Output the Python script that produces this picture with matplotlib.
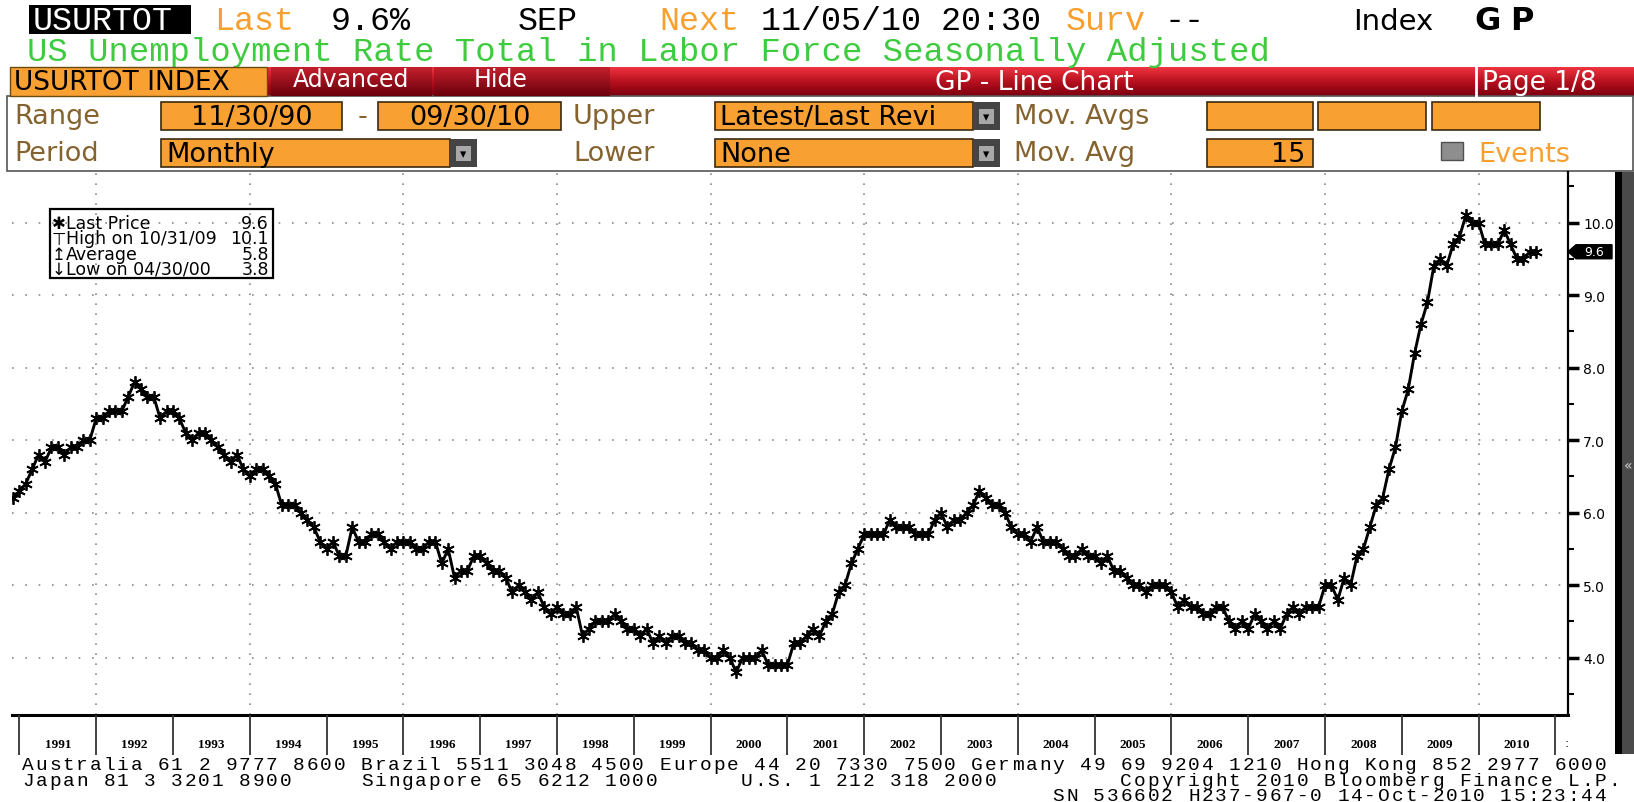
# US unemployment rate, Bloomberg GP style screen

import numpy as np
import pandas as pd
import matplotlib
matplotlib.use("Agg")
import matplotlib.pyplot as plt
from matplotlib.patches import Rectangle, Polygon
from matplotlib.colors import LinearSegmentedColormap

# monthly values, Nov 1990 .. Sep 2010 (one row per year)
unemp_rate = [
    6.2, 6.3,
    6.4, 6.6, 6.8, 6.7, 6.9, 6.9, 6.8, 6.9, 6.9, 7.0, 7.0, 7.3,
    7.3, 7.4, 7.4, 7.4, 7.6, 7.8, 7.7, 7.6, 7.6, 7.3, 7.4, 7.4,
    7.3, 7.1, 7.0, 7.1, 7.1, 7.0, 6.9, 6.8, 6.7, 6.8, 6.6, 6.5,
    6.6, 6.6, 6.5, 6.4, 6.1, 6.1, 6.1, 6.0, 5.9, 5.8, 5.6, 5.5,
    5.6, 5.4, 5.4, 5.8, 5.6, 5.6, 5.7, 5.7, 5.6, 5.5, 5.6, 5.6,
    5.6, 5.5, 5.5, 5.6, 5.6, 5.3, 5.5, 5.1, 5.2, 5.2, 5.4, 5.4,
    5.3, 5.2, 5.2, 5.1, 4.9, 5.0, 4.9, 4.8, 4.9, 4.7, 4.6, 4.7,
    4.6, 4.6, 4.7, 4.3, 4.4, 4.5, 4.5, 4.5, 4.6, 4.5, 4.4, 4.4,
    4.3, 4.4, 4.2, 4.3, 4.2, 4.3, 4.3, 4.2, 4.2, 4.1, 4.1, 4.0,
    4.0, 4.1, 4.0, 3.8, 4.0, 4.0, 4.0, 4.1, 3.9, 3.9, 3.9, 3.9,
    4.2, 4.2, 4.3, 4.4, 4.3, 4.5, 4.6, 4.9, 5.0, 5.3, 5.5, 5.7,
    5.7, 5.7, 5.7, 5.9, 5.8, 5.8, 5.8, 5.7, 5.7, 5.7, 5.9, 6.0,
    5.8, 5.9, 5.9, 6.0, 6.1, 6.3, 6.2, 6.1, 6.1, 6.0, 5.8, 5.7,
    5.7, 5.6, 5.8, 5.6, 5.6, 5.6, 5.5, 5.4, 5.4, 5.5, 5.4, 5.4,
    5.3, 5.4, 5.2, 5.2, 5.1, 5.0, 5.0, 4.9, 5.0, 5.0, 5.0, 4.9,
    4.7, 4.8, 4.7, 4.7, 4.6, 4.6, 4.7, 4.7, 4.5, 4.4, 4.5, 4.4,
    4.6, 4.5, 4.4, 4.5, 4.4, 4.6, 4.7, 4.6, 4.7, 4.7, 4.7, 5.0,
    5.0, 4.8, 5.1, 5.0, 5.4, 5.5, 5.8, 6.1, 6.2, 6.6, 6.9, 7.4,
    7.7, 8.2, 8.6, 8.9, 9.4, 9.5, 9.4, 9.7, 9.8, 10.1, 10.0, 10.0,
    9.7, 9.7, 9.7, 9.9, 9.7, 9.5, 9.5, 9.6, 9.6,
]
year_labels = [str(y) for y in range(1991, 2011)]
ytick_vals = [4, 5, 6, 7, 8, 9, 10]
legend_rows = ["Last Price", "High on 10/31/09", "Average", "Low on 04/30/00"]
legend_vals = ["9.6", "10.1", "5.8", "3.8"]
last_value = 9.6

footer_lines = [
    "Australia 61 2 9777 8600 Brazil 5511 3048 4500 Europe 44 20 7330 7500 Germany 49 69 9204 1210 Hong Kong 852 2977 6000",
    "Japan 81 3 3201 8900     Singapore 65 6212 1000      U.S. 1 212 318 2000         Copyright 2010 Bloomberg Finance L.P.",
    "                                                                            SN 536602 H237-967-0 14-Oct-2010 15:23:44",
]

ORANGE = "#f9a032"
OTXT = "#f7a030"
BROWN = "#85632f"
GREEN = "#3fcb3f"
MONO = "Liberation Mono"
SANS = "DejaVu Sans"

W, H = 1634, 803
fig = plt.figure(figsize=(W / 100, H / 100), dpi=100)
fig.patch.set_facecolor("white")
bg = fig.add_axes([0, 0, 1, 1])
bg.axis("off")


def rect(x0, y0, x1, y1, fc, ec="none", lw=0, z=1):
    bg.add_patch(Rectangle((x0, y0), x1 - x0, y1 - y0, fc=fc, ec=ec, lw=lw, zorder=z))


def txt(x, y, s, **kw):
    kw.setdefault("va", "center")
    bg.text(x, y, s, **kw)


# ---- header lines
rect(29, 6, 191, 35, "black")
txt(33, 22, "USURTOT", color="white", family=MONO, fontsize=24)
txt(214, 22, "Last", color=OTXT, family=MONO, fontsize=24)
txt(331, 22, "9.6%", color="black", family=MONO, fontsize=24)
txt(518, 22, "SEP", color="black", family=MONO, fontsize=24)
txt(659, 22, "Next", color=OTXT, family=MONO, fontsize=24)
txt(761, 22, "11/05/10 20:30", color="black", family=MONO, fontsize=24)
txt(1066, 22, "Surv", color=OTXT, family=MONO, fontsize=24)
txt(1165, 22, "--", color="black", family=MONO, fontsize=24)
txt(1353, 22, "Index", color="black", family=SANS, fontsize=21)
txt(1474, 22, "G", color="black", family=SANS, fontsize=23, weight="bold")
txt(1510, 22, "P", color="black", family=SANS, fontsize=23, weight="bold")
txt(27, 52, "US Unemployment Rate Total in Labor Force Seasonally Adjusted",
    color=GREEN, family=MONO, fontsize=24.4)

# ---- red menu bar
red = LinearSegmentedColormap.from_list("red", ["#ee3440", "#b8101e", "#7c0010"])
grad = np.linspace(0, 1, 60).reshape(-1, 1)
bg.imshow(grad, cmap=red, extent=(10, W, 97, 68), aspect="auto", zorder=1)
dark = LinearSegmentedColormap.from_list("dk", ["#c4202c", "#6a000c"])
for x0, x1 in [(271, 432), (434, 610)]:
    bg.imshow(grad, cmap=dark, extent=(x0, x1, 97, 68), aspect="auto", zorder=2)
rect(10, 68, 267, 97, ORANGE, ec="#6b4a10", lw=1, z=3)
txt(14, 83, "USURTOT INDEX", color="black", family=SANS, fontsize=19, zorder=4)
txt(351, 80, "Advanced", color="white", family=SANS, fontsize=17, ha="center", zorder=4)
txt(501, 80, "Hide", color="white", family=SANS, fontsize=17, ha="center", zorder=4)
txt(1034, 83, "GP - Line Chart", color="white", family=SANS, fontsize=19, ha="center", zorder=4)
bg.plot([1476, 1476], [68, 97], color="white", lw=2, zorder=4)
txt(1482, 83, "Page 1/8", color="white", family=SANS, fontsize=19, zorder=4)

# ---- settings panel
rect(7, 97, 1633, 172, "white", ec="#555555", lw=1.2, z=1)
row1, row2 = 117, 154
FS = 19.5


def field(x0, x1, yc, s="", align="left", dropdown=False):
    rect(x0, yc - 14, x1, yc + 14, ORANGE, ec="#3c2a10", lw=1.2, z=3)
    if align == "left":
        txt(x0 + 5, yc + 1, s, color="black", family=SANS, fontsize=FS, zorder=4)
    elif align == "center":
        txt((x0 + x1) / 2, yc + 1, s, color="black", family=SANS, fontsize=FS,
            ha="center", zorder=4)
    else:
        txt(x1 - 8, yc + 1, s, color="black", family=SANS, fontsize=FS, ha="right", zorder=4)
    if dropdown:
        rect(x1, yc - 14, x1 + 27, yc + 14, "#444444", z=3)
        rect(x1 + 6, yc - 7, x1 + 21, yc + 8, "#a8a8a8", z=4)
        txt(x1 + 13.5, yc + 1, "\u25be", color="black", family=SANS, fontsize=9,
            ha="center", zorder=5)


txt(14, row1, "Range", color=BROWN, family=SANS, fontsize=FS)
field(161, 342, row1, "11/30/90", align="center")
txt(358, row1, "-", color=BROWN, family=SANS, fontsize=FS)
field(378, 561, row1, "09/30/10", align="center")
txt(573, row1, "Upper", color=BROWN, family=SANS, fontsize=FS)
field(715, 973, row1, "Latest/Last Revi", dropdown=True)
txt(1014, row1, "Mov. Avgs", color=BROWN, family=SANS, fontsize=FS)
for x0, x1 in [(1207, 1313), (1318, 1426), (1432, 1540)]:
    field(x0, x1, row1)

txt(14, row2, "Period", color=BROWN, family=SANS, fontsize=FS)
field(161, 450, row2, "Monthly", dropdown=True)
txt(573, row2, "Lower", color=BROWN, family=SANS, fontsize=FS)
field(715, 973, row2, "None", dropdown=True)
txt(1014, row2, "Mov. Avg", color=BROWN, family=SANS, fontsize=FS)
field(1207, 1313, row2, "15", align="right")
rect(1441, 143, 1463, 161, "#8e8e8e", ec="#505050", lw=1, z=3)
txt(1478, row2 + 1, "Events", color=OTXT, family=SANS, fontsize=FS)

# ---- right strip
rect(1615, 173, 1622, 755, "black", z=2)
rect(1622, 173, W, 755, "#4a4a4a", z=2)
txt(1628, 466, "\u00ab", color="#d0d0d0", family=SANS, fontsize=10, ha="center", zorder=3)

# ---- legend box
rect(50, 210, 273, 279, "white", ec="black", lw=1.6, z=5)
syms = ["\u2731", "\u22a4", "\u21a5", "\u2193"]
for i, (lab, val) in enumerate(zip(legend_rows, legend_vals)):
    yy = 224 + i * 15.3
    txt(59, yy, syms[i], color="black", family=SANS, fontsize=12, ha="center", zorder=6)
    txt(66, yy, lab, color="black", family=SANS, fontsize=12.5, zorder=6)
    txt(269, yy, val, color="black", family=SANS, fontsize=12.5, ha="right", zorder=6)

# ---- footer, one character per fixed-width cell
col_w = 13.56
for k, line in enumerate(footer_lines):
    yy = 766 + k * 15.3
    for j, ch in enumerate(line):
        if ch != " ":
            txt(21 + j * col_w + col_w / 2, yy, ch, color="black", family=MONO,
                fontsize=14, ha="center")

bg.set_xlim(0, W)
bg.set_ylim(H, 0)

# ---- main chart
dates = pd.date_range("1990-11-30", periods=len(unemp_rate), freq="ME")
xs = dates.year + dates.month / 12.0
x_lo, x_hi = 1990.904, 2011.164

ax = fig.add_axes([12 / W, (H - 716) / H, (1568 - 12) / W, (716 - 173) / H])
ax.set_facecolor("none")
ax.plot(xs, unemp_rate, color="black", lw=2.1, marker=(6, 2, 0), ms=9, mew=1.3, zorder=4)
ax.set_xlim(x_lo, x_hi)
ax.set_ylim(3.21, 10.70)
for v in ytick_vals:
    ax.axhline(v, color="#8a8a8a", lw=1.2, ls=(0, (1, 7)), zorder=1)
for yr in range(1992, 2011, 2):
    ax.axvline(yr, color="#8a8a8a", lw=1.2, ls=(0, (1, 5)), zorder=1)

ax.yaxis.tick_right()
ax.set_yticks(ytick_vals)
ax.set_yticklabels([f"{v:.1f}" for v in ytick_vals], family=SANS, fontsize=10)
ax.set_yticks(np.arange(3.5, 10.6, 1.0), minor=True)
ax.tick_params(axis="y", which="major", length=8, width=2.5, pad=3, colors="black")
ax.tick_params(axis="y", which="minor", length=4, width=1.5)
ax.set_xticks([])
for s in ["left", "top"]:
    ax.spines[s].set_visible(False)
ax.spines["right"].set_linewidth(1.6)
ax.spines["bottom"].set_linewidth(2.2)

# last price tag pinned to the right axis
px = 1.0 / (1568 - 12)
py = 1.0 / 72.5
tag = [(1.0, last_value), (1.0 + 8 * px, last_value + 7 * py),
       (1.0 + 44 * px, last_value + 7 * py), (1.0 + 44 * px, last_value - 7 * py),
       (1.0 + 8 * px, last_value - 7 * py)]
ax.add_patch(Polygon(tag, closed=True, fc="black", ec="black",
                     transform=ax.get_yaxis_transform(), clip_on=False, zorder=6))
ax.text(1.0 + 26 * px, last_value, f"{last_value}", transform=ax.get_yaxis_transform(),
        color="white", family=SANS, fontsize=9, va="center", ha="center",
        zorder=7, clip_on=False)

# ---- year strip under the axis
ax2 = fig.add_axes([12 / W, (H - 756) / H, (1568 - 12) / W, 40 / H])
ax2.set_xlim(x_lo, x_hi)
ax2.set_ylim(0, 1)
ax2.axis("off")
for yr in range(1991, 2012):
    ax2.axvline(yr, color="#333333", lw=1.3)
for i, lab in enumerate(year_labels):
    ax2.text(1991 + i + 0.5, 0.28, lab, family="Liberation Serif", fontsize=9.5,
             weight="bold", ha="center", va="center", color="black")
ax2.text(2011.14, 0.32, ":", family=SANS, fontsize=9, ha="center", va="center")

fig.savefig("out.png", dpi=100)
